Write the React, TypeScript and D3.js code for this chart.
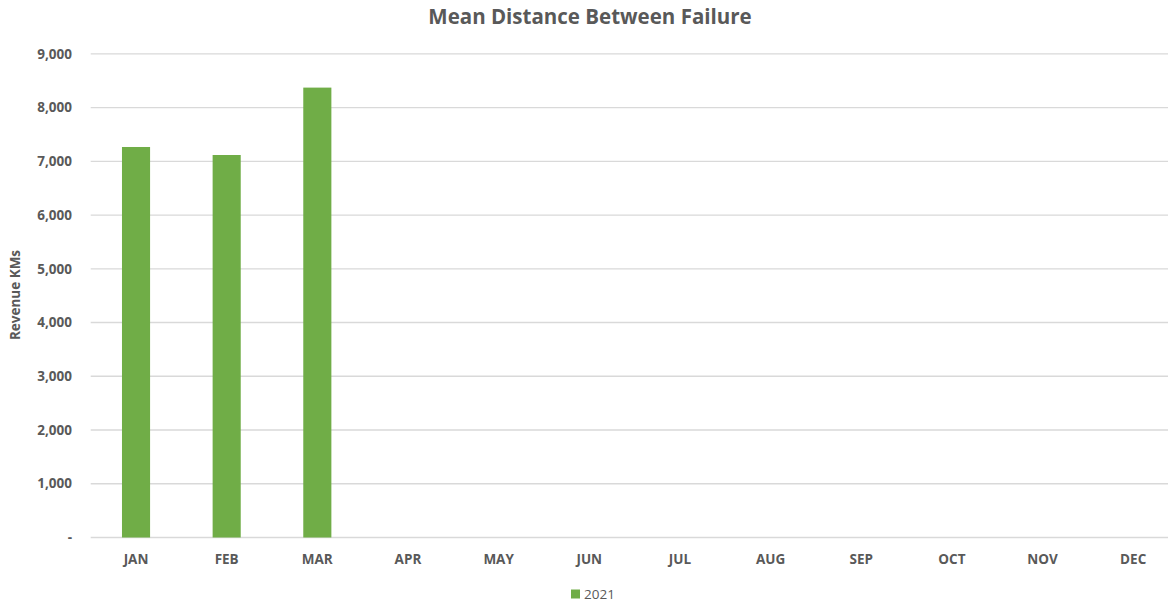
import React from "react";
import * as d3 from "d3";

const months = ["JAN","FEB","MAR","APR","MAY","JUN","JUL","AUG","SEP","OCT","NOV","DEC"];
const values2021: (number | null)[] = [7266, 7117, 8371, null, null, null, null, null, null, null, null, null];
const yTicks = [0,1000,2000,3000,4000,5000,6000,7000,8000,9000];
const seriesName = "2021";

const W = 1168, H = 602;
const FONT = "'Open Sans', sans-serif";
const TXT = "#595959";

export default function App() {
  const x = d3.scaleBand<string>().domain(months).range([90.7, 1178.5]).paddingInner(0.69).paddingOuter(0.345);
  const y = d3.scaleLinear().domain([0, 9000]).range([537.5, 53.8]);
  const fmt = d3.format(",");
  return (
    <svg width={W} height={H} style={{ position: "absolute", left: 0, top: 0, background: "#fff" }}>
      <text x={590} y={24} textAnchor="middle" fontFamily={FONT} fontWeight="bold" fontSize={20.5} fill={TXT}>Mean Distance Between Failure</text>
      {yTicks.map(t => (
        <g key={t}>
          <line x1={90.7} x2={1178.5} y1={y(t)} y2={y(t)} stroke="#d9d9d9" strokeWidth={1.3} />
          <text x={72} y={y(t)} dy="0.35em" textAnchor="end" fontFamily={FONT} fontWeight="bold" fontSize={13.5} fill={TXT}>{t === 0 ? "-" : fmt(t)}</text>
        </g>
      ))}
      {months.map((m, i) => values2021[i] == null ? null : (
        <rect key={m} x={x(m)} y={y(values2021[i] as number)} width={x.bandwidth()} height={y(0) - y(values2021[i] as number)} fill="#70ad47" />
      ))}
      {months.map(m => (
        <text key={m} x={(x(m) as number) + x.bandwidth() / 2} y={564} textAnchor="middle" fontFamily={FONT} fontWeight="bold" fontSize={13.5} fill={TXT}>{m}</text>
      ))}
      <text transform={`translate(20,295) rotate(-90)`} textAnchor="middle" fontFamily={FONT} fontWeight="bold" fontSize={13.5} fill={TXT}>Revenue KMs</text>
      <rect x={571} y={589.5} width={9} height={9} fill="#70ad47" />
      <text x={584} y={598.5} fontFamily={FONT} fontSize={13.5} fill={TXT}>{seriesName}</text>
    </svg>
  );
}
